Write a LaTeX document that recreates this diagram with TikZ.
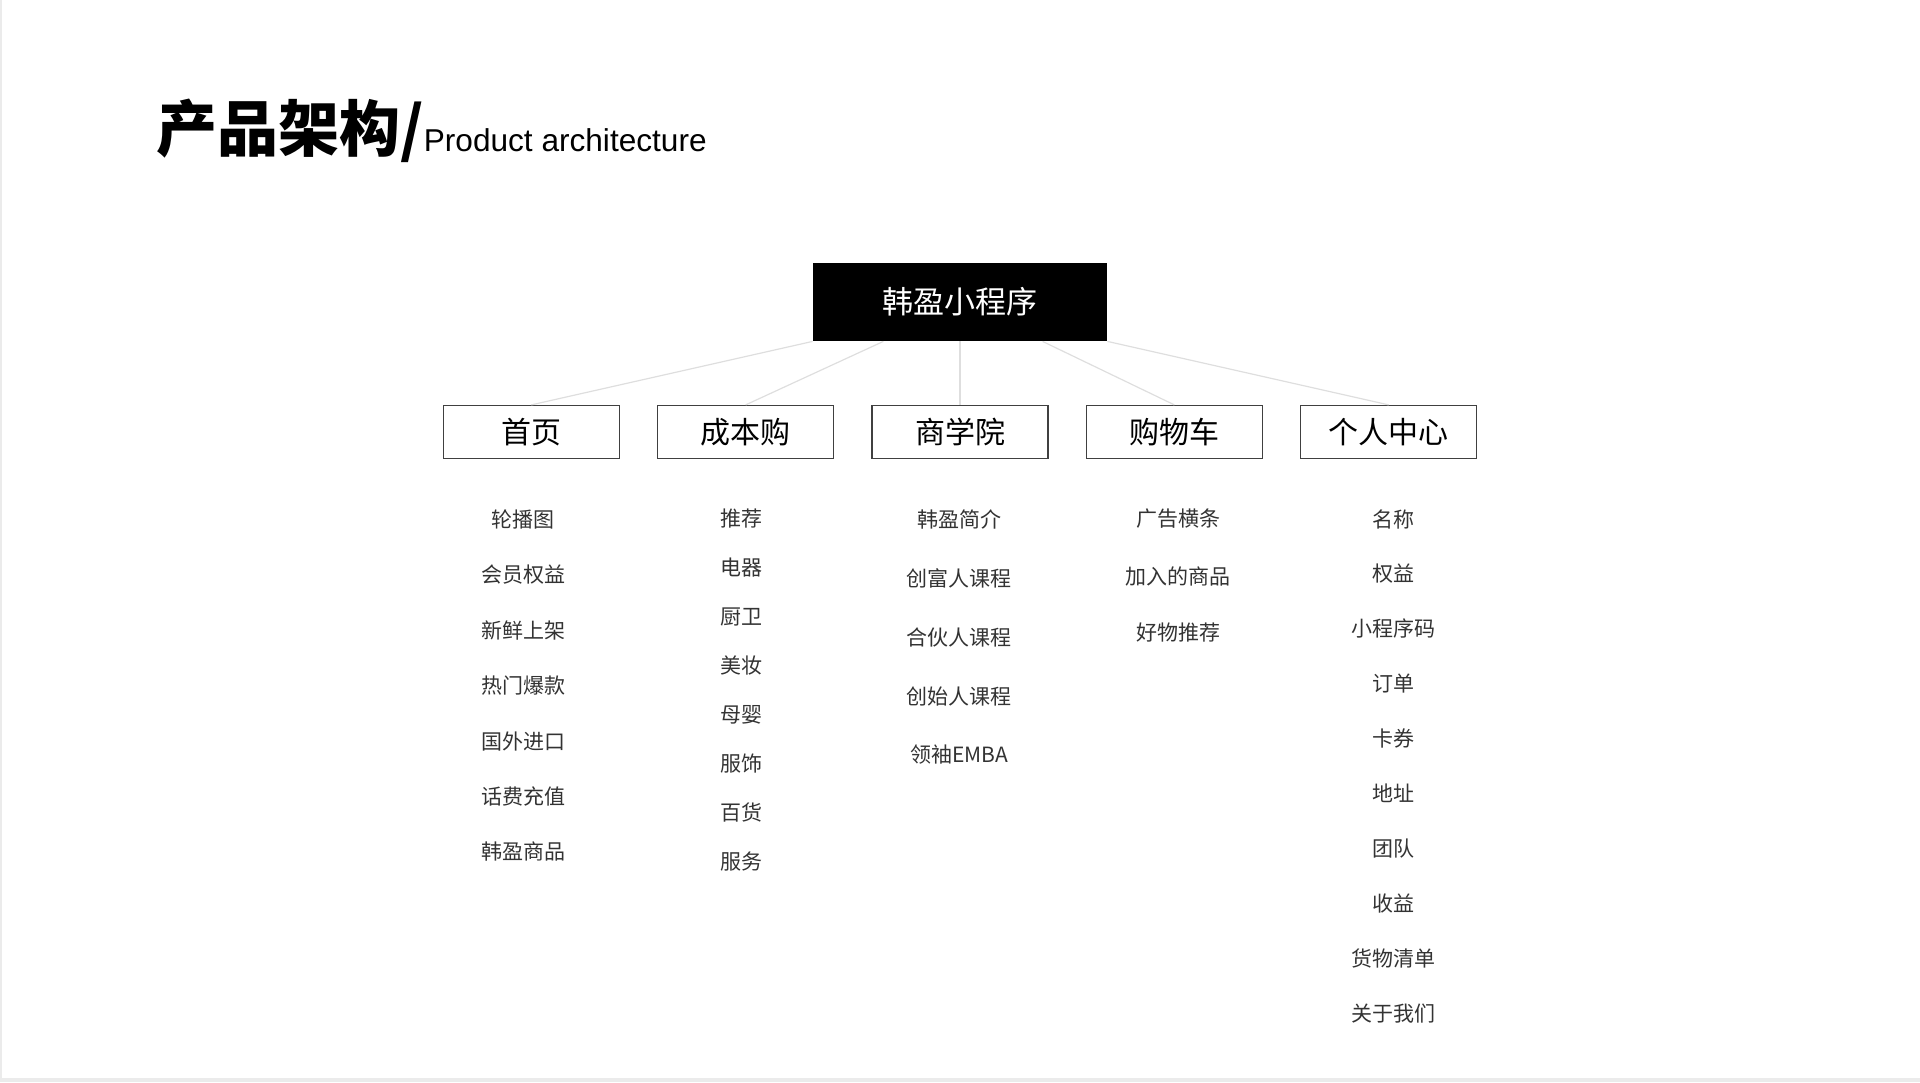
\documentclass[tikz,border=0pt]{standalone}
\usepackage{fontspec}
\setmainfont{Noto Sans CJK SC}
\newfontfamily\cjk{Noto Sans CJK SC}
\newfontfamily\latin{Liberation Sans}
\usetikzlibrary{positioning, calc}
\tikzset{
    rootbox/.style={fill=black, text=white, minimum width=147pt, minimum height=39pt, inner sep=0pt, font=\cjk\fontsize{15.5}{18}\selectfont},
    tabbox/.style={draw=black!75, line width=0.6pt, minimum width=88pt, minimum height=26.5pt, inner sep=0pt, font=\cjk\fontsize{15}{18}\selectfont},
    leaf/.style={text=black!80, inner sep=0pt, font=\cjk\fontsize{10.5}{13}\selectfont},
    link/.style={draw=black!13, line width=0.6pt}
}

\begin{document}
\begin{tikzpicture}[x=0.5pt, y=-0.5pt]
            \useasboundingbox (0,0) rectangle (1920,1082);
            \fill[black!8] (0,0) rectangle (2,1082);
            \fill[black!8] (0,1078) rectangle (1920,1082);
            \node[anchor=base west, inner sep=0pt] (title) at (156,151) {{\cjk\bfseries\fontsize{30.5}{36}\selectfont 产品架构/}{\latin\fontsize{15.8}{19}\selectfont Product architecture}};
            \node[rootbox] (root) at (960,302) {韩盈小程序};
            \node[tabbox] (school) at (960,432) {商学院};
            \node[tabbox, left = 18.6pt of school] (cost) {成本购};
            \node[tabbox, left = 18.6pt of cost] (home) {首页};
            \node[tabbox, right = 18.6pt of school] (cart) {购物车};
            \node[tabbox, right = 18.6pt of cart] (mine) {个人中心};
            \draw[link] (root.south west) -- (home.north);
            \draw[link] ($(root.south west)!0.24!(root.south east)$) -- (cost.north);
            \draw[link] (root.south) -- (school.north);
            \draw[link] ($(root.south west)!0.78!(root.south east)$) -- (cart.north);
            \draw[link] (root.south east) -- (mine.north);
            \foreach \t [count=\i from 0] in {轮播图, 会员权益, 新鲜上架, 热门爆款, 国外进口, 话费充值, 韩盈商品}
                \node[leaf] (home-\i) at (523, 519+55.5*\i) {\t};
            \foreach \t [count=\i from 0] in {推荐, 电器, 厨卫, 美妆, 母婴, 服饰, 百货, 服务}
                \node[leaf] (cost-\i) at (741, 519+48.9*\i) {\t};
            \foreach \t [count=\i from 0] in {韩盈简介, 创富人课程, 合伙人课程, 创始人课程, 领袖EMBA}
                \node[leaf] (school-\i) at (959, 519+59*\i) {\t};
            \foreach \t [count=\i from 0] in {广告横条, 加入的商品, 好物推荐}
                \node[leaf] (cart-\i) at (1178, 519+57*\i) {\t};
            \foreach \t [count=\i from 0] in {名称, 权益, 小程序码, 订单, 卡券, 地址, 团队, 收益, 货物清单, 关于我们}
                \node[leaf] (mine-\i) at (1393, 519+54.9*\i) {\t};
        \end{tikzpicture}
\end{document}
